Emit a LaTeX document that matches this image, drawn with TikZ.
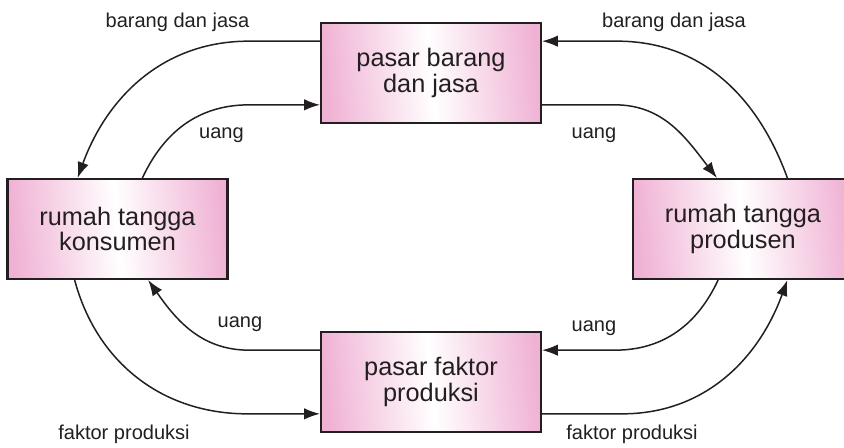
\documentclass[tikz,border=0pt]{standalone}
\usepackage{fontspec}
\setmainfont{Liberation Sans}
\usetikzlibrary{arrows.meta}
\definecolor{boxpink}{RGB}{240,178,212}
\definecolor{inkgray}{RGB}{35,31,32}
\begin{document}
\begin{tikzpicture}[line width=0.85pt,draw=inkgray,text=inkgray,>={Latex[length=9pt,width=6.5pt]},
marketbox/.style={draw=inkgray,rectangle,line width=1.2pt,minimum width=4.4cm,minimum height=2cm,align=center,
  left color=boxpink,right color=boxpink,middle color=white,shading angle=95,font=\fontsize{14.4}{13}\selectfont},
flowlbl/.style={anchor=base,inner sep=0pt,font=\fontsize{11.4}{13}\selectfont}]

\useasboundingbox (0,0) rectangle (16.88,8.94);

\draw (8.62,7.48) node[marketbox] (pbj) {pasar barang\\dan jasa};
\draw (2.35,4.36) node[marketbox] (rtk) {rumah tangga\\konsumen};
\draw (14.86,4.36) node[marketbox] (rtp) {rumah tangga\\produsen};
\draw (8.62,1.30) node[marketbox] (pfp) {pasar faktor\\produksi};

\draw (3.55,8.38) node[flowlbl] (bjkiri) {barang dan jasa};
\draw (13.48,8.38) node[flowlbl] (bjkanan) {barang dan jasa};
\draw (4.43,6.18) node[flowlbl] (uangA) {uang};
\draw (11.88,6.18) node[flowlbl] (uangB) {uang};
\draw (4.80,2.40) node[flowlbl] (uangC) {uang};
\draw (11.88,2.32) node[flowlbl] (uangD) {uang};
\draw (2.48,0.15) node[flowlbl] (fpkiri) {faktor produksi};
\draw (12.64,0.15) node[flowlbl] (fpkanan) {faktor produksi};

% arus atas
\draw[->] (pbj.164) -- ++(-1.42,0) to[out=180,in=70] (rtk.128);
\draw[<-] (pbj.196) -- ++(-1.42,0) to[out=180,in=65] (rtk.64);
\draw[<-] (pbj.16) -- ++(1.5,0) to[out=0,in=110] (rtp.49);
\draw[->] (pbj.-16) -- ++(1.46,0) to[out=0,in=128] (rtp.117);

% arus bawah
\draw[<-] (pfp.196) -- ++(-1.45,0) to[out=180,in=-75] (rtk.230);
\draw[->] (pfp.164) -- ++(-1.42,0) to[out=180,in=-55] (rtk.301);
\draw[<-] (pfp.16) -- ++(1.46,0) to[out=0,in=-115] (rtp.244);
\draw[->] (pfp.-16) -- ++(1.6,0) to[out=0,in=-110] (rtp.311);

\end{tikzpicture}
\end{document}
